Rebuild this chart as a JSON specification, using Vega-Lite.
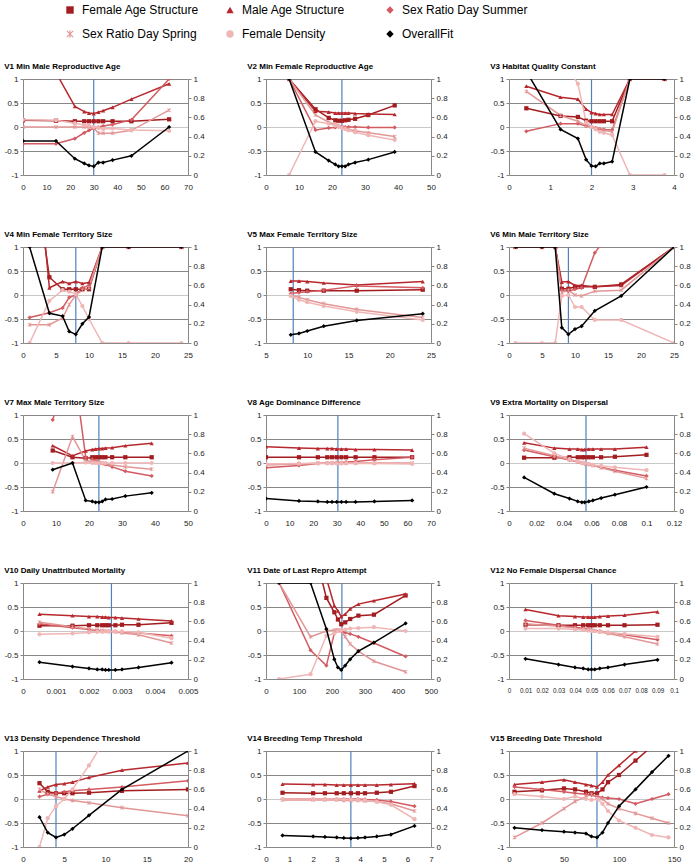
{
"$schema": "https://vega.github.io/schema/vega-lite/v6.json",
"padding": {"left": 4, "top": 4, "right": 0, "bottom": 0},
"datasets": {
"b": [{"p":"V1","x":30},{"p":"V2","x":23},{"p":"V3","x":2},{"p":"V4","x":8},{"p":"V5","x":8.3},{"p":"V6","x":9},{"p":"V7","x":23},{"p":"V8","x":30.5},{"p":"V9","x":0.056},{"p":"V10","x":0.00268},{"p":"V11","x":230},{"p":"V12","x":0.05},{"p":"V13","x":4},{"p":"V14","x":3.6},{"p":"V15","x":80}],
"d": [
{"p":"V1","x":0,"s1":0.14,"s2":1.3,"s3":-0.35,"s4":0,"s5":0.15,"s6":0.355},
{"p":"V1","x":14,"s1":0.13,"s2":1.13,"s3":-0.35,"s4":0,"s5":0.14,"s6":0.355},
{"p":"V1","x":22,"s1":0.12,"s2":0.43,"s3":-0.24,"s4":0,"s5":0.08,"s6":0.17},
{"p":"V1","x":26,"s1":0.12,"s2":0.32,"s3":-0.12,"s4":0,"s5":0.04,"s6":0.12},
{"p":"V1","x":28,"s1":0.12,"s2":0.29,"s3":-0.07,"s4":0,"s5":0.03,"s6":0.1},
{"p":"V1","x":30,"s1":0.12,"s2":0.28,"s3":-0.03,"s4":-0.02,"s5":0,"s6":0.09},
{"p":"V1","x":32,"s1":0.12,"s2":0.31,"s3":0,"s4":-0.13,"s5":-0.02,"s6":0.13},
{"p":"V1","x":34,"s1":0.12,"s2":0.34,"s3":0.02,"s4":-0.13,"s5":-0.04,"s6":0.13},
{"p":"V1","x":38,"s1":0.12,"s2":0.41,"s3":0.05,"s4":-0.13,"s5":-0.03,"s6":0.155},
{"p":"V1","x":46,"s1":0.12,"s2":0.58,"s3":0.15,"s4":-0.07,"s5":-0.06,"s6":0.2},
{"p":"V1","x":62,"s1":0.16,"s2":0.9,"s3":1.0,"s4":0.35,"s5":-0.08,"s6":0.5},
{"p":"V2","x":7,"s1":1,"s2":1,"s3":1,"s4":1,"s5":-1,"s6":1},
{"p":"V2","x":15,"s1":0.37,"s2":0.33,"s3":-0.06,"s4":0.25,"s5":0.12,"s6":0.24},
{"p":"V2","x":19,"s1":0.19,"s2":0.31,"s3":-0.02,"s4":0.1,"s5":0.07,"s6":0.15},
{"p":"V2","x":21,"s1":0.14,"s2":0.29,"s3":-0.01,"s4":0.05,"s5":0.03,"s6":0.11},
{"p":"V2","x":22,"s1":0.13,"s2":0.29,"s3":0,"s4":0.03,"s5":0.01,"s6":0.09},
{"p":"V2","x":23,"s1":0.13,"s2":0.29,"s3":0,"s4":0,"s5":-0.02,"s6":0.09},
{"p":"V2","x":24,"s1":0.14,"s2":0.29,"s3":0,"s4":-0.02,"s5":-0.04,"s6":0.09},
{"p":"V2","x":25,"s1":0.15,"s2":0.29,"s3":0,"s4":-0.05,"s5":-0.07,"s6":0.11},
{"p":"V2","x":27,"s1":0.17,"s2":0.28,"s3":0,"s4":-0.08,"s5":-0.11,"s6":0.13},
{"p":"V2","x":31,"s1":0.25,"s2":0.27,"s3":-0.01,"s4":-0.12,"s5":-0.17,"s6":0.16},
{"p":"V2","x":39,"s1":0.45,"s2":0.26,"s3":-0.01,"s4":-0.2,"s5":-0.27,"s6":0.24},
{"p":"V3","x":0.42,"s1":0.39,"s2":0.85,"s3":-0.09,"s4":0.74,"s5":2.5,"s6":1.08},
{"p":"V3","x":1.25,"s1":0.23,"s2":0.62,"s3":0.07,"s4":0.24,"s5":1.5,"s6":0.475},
{"p":"V3","x":1.67,"s1":0.21,"s2":0.58,"s3":0.07,"s4":0.12,"s5":0.9,"s6":0.38},
{"p":"V3","x":1.87,"s1":0.13,"s2":0.37,"s3":0.02,"s4":0.03,"s5":0.1,"s6":0.16},
{"p":"V3","x":2,"s1":0.12,"s2":0.3,"s3":0,"s4":0,"s5":0,"s6":0.095},
{"p":"V3","x":2.1,"s1":0.12,"s2":0.28,"s3":-0.02,"s4":-0.03,"s5":-0.05,"s6":0.09},
{"p":"V3","x":2.2,"s1":0.12,"s2":0.26,"s3":-0.04,"s4":-0.05,"s5":-0.1,"s6":0.12},
{"p":"V3","x":2.3,"s1":0.12,"s2":0.26,"s3":-0.05,"s4":-0.07,"s5":-0.12,"s6":0.12},
{"p":"V3","x":2.5,"s1":0.12,"s2":0.26,"s3":-0.06,"s4":-0.1,"s5":-0.17,"s6":0.14},
{"p":"V3","x":2.93,"s1":1,"s2":1,"s3":1,"s4":1,"s5":-1,"s6":1},
{"p":"V3","x":3.77,"s1":1,"s2":1,"s3":1,"s4":1,"s5":-1,"s6":1},
{"p":"V4","x":1,"s1":3.3,"s2":4.4,"s3":-0.47,"s4":-0.62,"s5":-1,"s6":1},
{"p":"V4","x":4,"s1":0.37,"s2":0.15,"s3":-0.37,"s4":-0.62,"s5":-0.12,"s6":0.31},
{"p":"V4","x":6,"s1":0.12,"s2":0.28,"s3":-0.27,"s4":-0.48,"s5":0.1,"s6":0.28},
{"p":"V4","x":7,"s1":0.12,"s2":0.24,"s3":-0.05,"s4":-0.2,"s5":0.07,"s6":0.12},
{"p":"V4","x":8,"s1":0.12,"s2":0.28,"s3":0,"s4":0,"s5":0.02,"s6":0.09},
{"p":"V4","x":9,"s1":0.12,"s2":0.24,"s3":0.15,"s4":0.1,"s5":-0.23,"s6":0.2},
{"p":"V4","x":10,"s1":0.12,"s2":0.26,"s3":0.2,"s4":0.15,"s5":-0.5,"s6":0.27},
{"p":"V4","x":12,"s1":1,"s2":1,"s3":1,"s4":1,"s5":-1,"s6":1},
{"p":"V4","x":16,"s1":1,"s2":1,"s3":1,"s4":1,"s5":-1,"s6":1},
{"p":"V4","x":24,"s1":1,"s2":1,"s3":1,"s4":1,"s5":-1,"s6":1},
{"p":"V5","x":8,"s1":0.12,"s2":0.29,"s3":0.03,"s4":0,"s5":-0.02,"s6":0.085},
{"p":"V5","x":9,"s1":0.1,"s2":0.29,"s3":0.05,"s4":-0.05,"s5":-0.1,"s6":0.1},
{"p":"V5","x":10,"s1":0.09,"s2":0.28,"s3":0.07,"s4":-0.1,"s5":-0.15,"s6":0.125},
{"p":"V5","x":12,"s1":0.09,"s2":0.25,"s3":0.1,"s4":-0.18,"s5":-0.23,"s6":0.175},
{"p":"V5","x":16,"s1":0.09,"s2":0.21,"s3":0.19,"s4":-0.3,"s5":-0.35,"s6":0.235},
{"p":"V5","x":24,"s1":0.11,"s2":0.28,"s3":0.15,"s4":-0.47,"s5":-0.52,"s6":0.305},
{"p":"V6","x":1,"s1":1,"s2":1,"s3":1,"s4":1,"s5":-1,"s6":1},
{"p":"V6","x":5,"s1":1,"s2":1,"s3":1,"s4":1,"s5":-1,"s6":1},
{"p":"V6","x":7,"s1":1,"s2":1,"s3":1,"s4":1,"s5":-1,"s6":1},
{"p":"V6","x":8,"s1":0.13,"s2":0.27,"s3":0.1,"s4":0.05,"s5":-0.02,"s6":0.16},
{"p":"V6","x":9,"s1":0.13,"s2":0.28,"s3":0.08,"s4":0.1,"s5":0,"s6":0.09},
{"p":"V6","x":10,"s1":0.17,"s2":0.2,"s3":0.12,"s4":0,"s5":-0.25,"s6":0.145},
{"p":"V6","x":11,"s1":0.17,"s2":0.2,"s3":0.15,"s4":-0.02,"s5":-0.25,"s6":0.175},
{"p":"V6","x":13,"s1":0.17,"s2":0.17,"s3":0.88,"s4":0.08,"s5":-0.52,"s6":0.335},
{"p":"V6","x":17,"s1":0.22,"s2":0.2,"s3":1.6,"s4":0.1,"s5":-0.52,"s6":0.49},
{"p":"V6","x":25,"s1":1,"s2":1,"s3":1,"s4":1,"s5":-1,"s6":1},
{"p":"V7","x":9,"s1":0.26,"s2":0.36,"s3":0.9,"s4":-0.6,"s5":0,"s6":0.43},
{"p":"V7","x":15,"s1":0.12,"s2":0.15,"s3":2.2,"s4":0.55,"s5":0,"s6":0.5},
{"p":"V7","x":19,"s1":0.1,"s2":0.25,"s3":0.12,"s4":0.05,"s5":0.01,"s6":0.11},
{"p":"V7","x":21,"s1":0.12,"s2":0.28,"s3":0.08,"s4":0.03,"s5":0,"s6":0.1},
{"p":"V7","x":22,"s1":0.12,"s2":0.29,"s3":0.05,"s4":0.02,"s5":0,"s6":0.09},
{"p":"V7","x":23,"s1":0.12,"s2":0.3,"s3":0.02,"s4":0,"s5":0,"s6":0.09},
{"p":"V7","x":24,"s1":0.12,"s2":0.3,"s3":0,"s4":-0.01,"s5":0,"s6":0.1},
{"p":"V7","x":25,"s1":0.12,"s2":0.31,"s3":-0.03,"s4":-0.02,"s5":0,"s6":0.12},
{"p":"V7","x":27,"s1":0.12,"s2":0.32,"s3":-0.08,"s4":-0.04,"s5":0,"s6":0.125},
{"p":"V7","x":31,"s1":0.12,"s2":0.36,"s3":-0.17,"s4":-0.08,"s5":0,"s6":0.155},
{"p":"V7","x":39,"s1":0.12,"s2":0.41,"s3":-0.27,"s4":-0.13,"s5":0,"s6":0.19},
{"p":"V8","x":0,"s1":0.12,"s2":0.34,"s3":-0.1,"s4":-0.04,"s5":-0.02,"s6":0.13},
{"p":"V8","x":14,"s1":0.12,"s2":0.31,"s3":-0.05,"s4":-0.02,"s5":-0.01,"s6":0.105},
{"p":"V8","x":22,"s1":0.12,"s2":0.3,"s3":-0.01,"s4":0,"s5":-0.01,"s6":0.1},
{"p":"V8","x":26,"s1":0.12,"s2":0.3,"s3":0,"s4":0,"s5":-0.01,"s6":0.095},
{"p":"V8","x":28,"s1":0.12,"s2":0.3,"s3":0,"s4":0,"s5":-0.01,"s6":0.095},
{"p":"V8","x":30,"s1":0.12,"s2":0.29,"s3":0.01,"s4":0,"s5":-0.01,"s6":0.095},
{"p":"V8","x":32,"s1":0.12,"s2":0.29,"s3":0.01,"s4":0,"s5":-0.01,"s6":0.095},
{"p":"V8","x":34,"s1":0.12,"s2":0.29,"s3":0.02,"s4":0,"s5":-0.01,"s6":0.095},
{"p":"V8","x":38,"s1":0.12,"s2":0.28,"s3":0.03,"s4":0,"s5":-0.01,"s6":0.095},
{"p":"V8","x":46,"s1":0.12,"s2":0.28,"s3":0.07,"s4":0,"s5":-0.01,"s6":0.1},
{"p":"V8","x":62,"s1":0.12,"s2":0.27,"s3":0.12,"s4":0,"s5":-0.02,"s6":0.11},
{"p":"V9","x":0.011,"s1":0.11,"s2":0.42,"s3":0.27,"s4":0.31,"s5":0.61,"s6":0.35},
{"p":"V9","x":0.033,"s1":0.11,"s2":0.31,"s3":0.13,"s4":0.15,"s5":0.2,"s6":0.18},
{"p":"V9","x":0.044,"s1":0.12,"s2":0.29,"s3":0.06,"s4":0.07,"s5":0.08,"s6":0.13},
{"p":"V9","x":0.05,"s1":0.12,"s2":0.29,"s3":0.02,"s4":0.03,"s5":0.03,"s6":0.1},
{"p":"V9","x":0.053,"s1":0.12,"s2":0.28,"s3":0,"s4":0.01,"s5":0,"s6":0.09},
{"p":"V9","x":0.055,"s1":0.12,"s2":0.28,"s3":-0.02,"s4":-0.01,"s5":-0.01,"s6":0.09},
{"p":"V9","x":0.058,"s1":0.12,"s2":0.29,"s3":-0.03,"s4":-0.03,"s5":-0.02,"s6":0.1},
{"p":"V9","x":0.061,"s1":0.12,"s2":0.29,"s3":-0.05,"s4":-0.05,"s5":-0.04,"s6":0.11},
{"p":"V9","x":0.067,"s1":0.12,"s2":0.29,"s3":-0.09,"s4":-0.1,"s5":-0.06,"s6":0.135},
{"p":"V9","x":0.077,"s1":0.13,"s2":0.29,"s3":-0.15,"s4":-0.17,"s5":-0.09,"s6":0.17},
{"p":"V9","x":0.1,"s1":0.17,"s2":0.33,"s3":-0.27,"s4":-0.32,"s5":-0.15,"s6":0.25},
{"p":"V10","x":0.0005,"s1":0.11,"s2":0.35,"s3":0.15,"s4":0.18,"s5":-0.07,"s6":0.175},
{"p":"V10","x":0.0015,"s1":0.11,"s2":0.32,"s3":0.07,"s4":0.09,"s5":-0.05,"s6":0.13},
{"p":"V10","x":0.002,"s1":0.12,"s2":0.3,"s3":0.03,"s4":0.04,"s5":-0.03,"s6":0.11},
{"p":"V10","x":0.00225,"s1":0.12,"s2":0.3,"s3":0.01,"s4":0.02,"s5":-0.02,"s6":0.1},
{"p":"V10","x":0.0024,"s1":0.12,"s2":0.29,"s3":0,"s4":0.01,"s5":-0.02,"s6":0.1},
{"p":"V10","x":0.0025,"s1":0.12,"s2":0.29,"s3":0,"s4":0,"s5":-0.01,"s6":0.095},
{"p":"V10","x":0.0026,"s1":0.12,"s2":0.28,"s3":-0.01,"s4":-0.01,"s5":-0.01,"s6":0.095},
{"p":"V10","x":0.0028,"s1":0.12,"s2":0.28,"s3":-0.01,"s4":-0.02,"s5":-0.01,"s6":0.095},
{"p":"V10","x":0.003,"s1":0.13,"s2":0.27,"s3":-0.02,"s4":-0.04,"s5":-0.01,"s6":0.1},
{"p":"V10","x":0.0035,"s1":0.13,"s2":0.25,"s3":-0.04,"s4":-0.08,"s5":-0.03,"s6":0.12},
{"p":"V10","x":0.0045,"s1":0.17,"s2":0.21,"s3":-0.1,"s4":-0.25,"s5":-0.15,"s6":0.17},
{"p":"V11","x":40,"s1":3,"s2":3,"s3":1,"s4":1,"s5":-1,"s6":1},
{"p":"V11","x":135,"s1":2,"s2":2.5,"s3":-0.4,"s4":-0.12,"s5":-0.9,"s6":1},
{"p":"V11","x":183,"s1":0.69,"s2":1.1,"s3":-0.72,"s4":0,"s5":-0.1,"s6":0.52},
{"p":"V11","x":207,"s1":0.39,"s2":0.53,"s3":-0.05,"s4":0.02,"s5":-0.05,"s6":0.205},
{"p":"V11","x":218,"s1":0.24,"s2":0.42,"s3":0.02,"s4":0.02,"s5":0,"s6":0.12},
{"p":"V11","x":228,"s1":0.14,"s2":0.3,"s3":0,"s4":0,"s5":0.02,"s6":0.095},
{"p":"V11","x":240,"s1":0.18,"s2":0.35,"s3":-0.03,"s4":-0.12,"s5":0.03,"s6":0.14},
{"p":"V11","x":255,"s1":0.25,"s2":0.46,"s3":-0.06,"s4":-0.27,"s5":0.05,"s6":0.205},
{"p":"V11","x":280,"s1":0.32,"s2":0.56,"s3":-0.12,"s4":-0.42,"s5":0.06,"s6":0.29},
{"p":"V11","x":327,"s1":0.34,"s2":0.63,"s3":-0.25,"s4":-0.63,"s5":0.08,"s6":0.38},
{"p":"V11","x":423,"s1":0.74,"s2":0.77,"s3":-0.53,"s4":-0.85,"s5":0,"s6":0.58},
{"p":"V12","x":0.01,"s1":0.13,"s2":0.45,"s3":0.22,"s4":0.15,"s5":0.05,"s6":0.21},
{"p":"V12","x":0.03,"s1":0.12,"s2":0.32,"s3":0.12,"s4":0.1,"s5":0.05,"s6":0.15},
{"p":"V12","x":0.04,"s1":0.12,"s2":0.3,"s3":0.08,"s4":0.06,"s5":0.03,"s6":0.12},
{"p":"V12","x":0.045,"s1":0.12,"s2":0.29,"s3":0.06,"s4":0.04,"s5":0.02,"s6":0.11},
{"p":"V12","x":0.048,"s1":0.12,"s2":0.29,"s3":0.04,"s4":0.03,"s5":0.01,"s6":0.1},
{"p":"V12","x":0.05,"s1":0.12,"s2":0.29,"s3":0.02,"s4":0.02,"s5":0,"s6":0.1},
{"p":"V12","x":0.052,"s1":0.12,"s2":0.29,"s3":0.01,"s4":0,"s5":0,"s6":0.1},
{"p":"V12","x":0.055,"s1":0.12,"s2":0.3,"s3":0,"s4":-0.02,"s5":-0.01,"s6":0.11},
{"p":"V12","x":0.06,"s1":0.12,"s2":0.31,"s3":-0.03,"s4":-0.05,"s5":-0.03,"s6":0.12},
{"p":"V12","x":0.07,"s1":0.12,"s2":0.33,"s3":-0.08,"s4":-0.12,"s5":-0.06,"s6":0.15},
{"p":"V12","x":0.09,"s1":0.13,"s2":0.4,"s3":-0.18,"s4":-0.27,"s5":-0.12,"s6":0.2},
{"p":"V13","x":2,"s1":0.33,"s2":0.17,"s3":0.05,"s4":0.2,"s5":-1,"s6":0.31},
{"p":"V13","x":3,"s1":0.15,"s2":0.25,"s3":0.1,"s4":0.1,"s5":-0.4,"s6":0.15},
{"p":"V13","x":4,"s1":0.12,"s2":0.3,"s3":0.12,"s4":0.05,"s5":-0.15,"s6":0.1},
{"p":"V13","x":5,"s1":0.12,"s2":0.32,"s3":0.15,"s4":0,"s5":0,"s6":0.13},
{"p":"V13","x":6,"s1":0.12,"s2":0.35,"s3":0.17,"s4":-0.03,"s5":0.2,"s6":0.19},
{"p":"V13","x":8,"s1":0.13,"s2":0.45,"s3":0.2,"s4":-0.08,"s5":0.7,"s6":0.33},
{"p":"V13","x":12,"s1":0.17,"s2":0.6,"s3":0.25,"s4":-0.18,"s5":1.8,"s6":0.6},
{"p":"V13","x":20,"s1":0.2,"s2":0.75,"s3":0.38,"s4":-0.35,"s5":3.5,"s6":1},
{"p":"V14","x":0.7,"s1":0.13,"s2":0.31,"s3":0,"s4":-0.02,"s5":0,"s6":0.12},
{"p":"V14","x":2,"s1":0.12,"s2":0.3,"s3":0,"s4":-0.02,"s5":0,"s6":0.11},
{"p":"V14","x":2.5,"s1":0.12,"s2":0.3,"s3":0,"s4":-0.02,"s5":0,"s6":0.105},
{"p":"V14","x":3,"s1":0.12,"s2":0.29,"s3":0,"s4":-0.02,"s5":0,"s6":0.1},
{"p":"V14","x":3.3,"s1":0.12,"s2":0.29,"s3":0,"s4":-0.03,"s5":-0.01,"s6":0.095},
{"p":"V14","x":3.6,"s1":0.12,"s2":0.29,"s3":0,"s4":-0.03,"s5":-0.01,"s6":0.09},
{"p":"V14","x":3.9,"s1":0.12,"s2":0.29,"s3":0,"s4":-0.03,"s5":-0.02,"s6":0.095},
{"p":"V14","x":4.2,"s1":0.12,"s2":0.29,"s3":-0.01,"s4":-0.04,"s5":-0.03,"s6":0.1},
{"p":"V14","x":4.7,"s1":0.13,"s2":0.29,"s3":-0.02,"s4":-0.05,"s5":-0.06,"s6":0.11},
{"p":"V14","x":5.3,"s1":0.15,"s2":0.3,"s3":-0.05,"s4":-0.1,"s5":-0.12,"s6":0.13},
{"p":"V14","x":6.3,"s1":0.27,"s2":0.32,"s3":-0.15,"s4":-0.25,"s5":-0.42,"s6":0.22},
{"p":"V15","x":5,"s1":0.15,"s2":0.3,"s3":0.25,"s4":-0.8,"s5":0.1,"s6":0.2},
{"p":"V15","x":30,"s1":0.18,"s2":0.35,"s3":0.2,"s4":-0.5,"s5":0.05,"s6":0.175},
{"p":"V15","x":50,"s1":0.22,"s2":0.4,"s3":0.15,"s4":-0.2,"s5":0,"s6":0.16},
{"p":"V15","x":60,"s1":0.2,"s2":0.35,"s3":0.12,"s4":-0.05,"s5":0.05,"s6":0.15},
{"p":"V15","x":70,"s1":0.15,"s2":0.3,"s3":0.1,"s4":0.05,"s5":0,"s6":0.14},
{"p":"V15","x":75,"s1":0.12,"s2":0.28,"s3":0.08,"s4":0.1,"s5":-0.02,"s6":0.11},
{"p":"V15","x":80,"s1":0.12,"s2":0.25,"s3":0.05,"s4":0.05,"s5":0,"s6":0.1},
{"p":"V15","x":85,"s1":0.2,"s2":0.35,"s3":0.03,"s4":0,"s5":-0.1,"s6":0.15},
{"p":"V15","x":90,"s1":0.35,"s2":0.5,"s3":0.02,"s4":-0.1,"s5":-0.25,"s6":0.25},
{"p":"V15","x":100,"s1":0.5,"s2":0.7,"s3":0,"s4":-0.2,"s5":-0.45,"s6":0.425},
{"p":"V15","x":115,"s1":0.8,"s2":1,"s3":-0.1,"s4":-0.3,"s5":-0.6,"s6":0.6},
{"p":"V15","x":130,"s1":1.1,"s2":1.3,"s3":0,"s4":-0.4,"s5":-0.75,"s6":0.78},
{"p":"V15","x":145,"s1":1.4,"s2":1.6,"s3":0.1,"s4":-0.5,"s5":-0.8,"s6":0.95}
]},
"columns": 3,
"spacing": {"row": 40, "column": 42},
"resolve": {"scale": {"color": "shared", "shape": "shared", "stroke": "shared"}},
"concat": [
{"title":"V1 Min Male Reproductive Age","width":165,"height":96,"data":{"name":"d"},"transform":[{"filter":"datum.p=='V1'"}],"layer":[
{"data":{"name":"b"},"transform":[{"filter":"datum.p=='V1'"}],"mark":{"type":"rule","color":"#4F81BD","strokeWidth":1.2},"encoding":{"x":{"field":"x","type":"quantitative","scale":{"domain":[0,70],"nice":false,"zero":false},"axis":{"values":[0,10,20,30,40,50,60,70]},"title":null}}},
{"transform":[{"fold":["s1","s2","s3","s4","s5"],"as":["s","v"]}],"encoding":{"x":{"field":"x","type":"quantitative","scale":{"domain":[0,70],"nice":false,"zero":false},"axis":{"values":[0,10,20,30,40,50,60,70]},"title":null},"y":{"field":"v","type":"quantitative","scale":{"domain":[-1,1],"nice":false},"axis":{"orient":"left","values":[-1,-0.5,0,0.5,1]},"title":null}},"layer":[{"mark":{"type":"line","clip":true,"strokeWidth":1.5},"encoding":{"stroke":{"field":"s","type":"nominal","legend":null}}},{"mark":{"type":"point","filled":true,"clip":true,"size":18,"opacity":1},"encoding":{"color":{"field":"s","type":"nominal","title":null,"legend":{"labelExpr":"datum.label=='s1'?'Female Age Structure':datum.label=='s2'?'Male Age Structure':datum.label=='s3'?'Sex Ratio Day Summer':datum.label=='s4'?'Sex Ratio Day Spring':datum.label=='s5'?'Female Density':'OverallFit'"}},"shape":{"field":"s","type":"nominal","title":null,"legend":{"labelExpr":"datum.label=='s1'?'Female Age Structure':datum.label=='s2'?'Male Age Structure':datum.label=='s3'?'Sex Ratio Day Summer':datum.label=='s4'?'Sex Ratio Day Spring':datum.label=='s5'?'Female Density':'OverallFit'"}}}}]},
{"transform":[{"fold":["s6"],"as":["s","v"]}],"encoding":{"x":{"field":"x","type":"quantitative","scale":{"domain":[0,70],"nice":false,"zero":false},"axis":{"values":[0,10,20,30,40,50,60,70]},"title":null},"y":{"field":"v","type":"quantitative","scale":{"domain":[0,1],"nice":false},"axis":{"orient":"right","values":[0,0.2,0.4,0.6,0.8,1]},"title":null}},"layer":[{"mark":{"type":"line","clip":true,"strokeWidth":1.5},"encoding":{"stroke":{"field":"s","type":"nominal","legend":null}}},{"mark":{"type":"point","filled":true,"clip":true,"size":18,"opacity":1},"encoding":{"color":{"field":"s","type":"nominal","title":null},"shape":{"field":"s","type":"nominal","title":null}}}]}
],"resolve":{"scale":{"y":"independent"}}},
{"title":"V2 Min Female Reproductive Age","width":165,"height":96,"data":{"name":"d"},"transform":[{"filter":"datum.p=='V2'"}],"layer":[
{"data":{"name":"b"},"transform":[{"filter":"datum.p=='V2'"}],"mark":{"type":"rule","color":"#4F81BD","strokeWidth":1.2},"encoding":{"x":{"field":"x","type":"quantitative","scale":{"domain":[0,50],"nice":false,"zero":false},"axis":{"values":[0,10,20,30,40,50]},"title":null}}},
{"transform":[{"fold":["s1","s2","s3","s4","s5"],"as":["s","v"]}],"encoding":{"x":{"field":"x","type":"quantitative","scale":{"domain":[0,50],"nice":false,"zero":false},"axis":{"values":[0,10,20,30,40,50]},"title":null},"y":{"field":"v","type":"quantitative","scale":{"domain":[-1,1],"nice":false},"axis":{"orient":"left","values":[-1,-0.5,0,0.5,1]},"title":null}},"layer":[{"mark":{"type":"line","clip":true,"strokeWidth":1.5},"encoding":{"stroke":{"field":"s","type":"nominal","legend":null}}},{"mark":{"type":"point","filled":true,"clip":true,"size":18,"opacity":1},"encoding":{"color":{"field":"s","type":"nominal","title":null},"shape":{"field":"s","type":"nominal","title":null}}}]},
{"transform":[{"fold":["s6"],"as":["s","v"]}],"encoding":{"x":{"field":"x","type":"quantitative","scale":{"domain":[0,50],"nice":false,"zero":false},"axis":{"values":[0,10,20,30,40,50]},"title":null},"y":{"field":"v","type":"quantitative","scale":{"domain":[0,1],"nice":false},"axis":{"orient":"right","values":[0,0.2,0.4,0.6,0.8,1]},"title":null}},"layer":[{"mark":{"type":"line","clip":true,"strokeWidth":1.5},"encoding":{"stroke":{"field":"s","type":"nominal","legend":null}}},{"mark":{"type":"point","filled":true,"clip":true,"size":18,"opacity":1},"encoding":{"color":{"field":"s","type":"nominal","title":null},"shape":{"field":"s","type":"nominal","title":null}}}]}
],"resolve":{"scale":{"y":"independent"}}},
{"title":"V3 Habitat Quality Constant","width":165,"height":96,"data":{"name":"d"},"transform":[{"filter":"datum.p=='V3'"}],"layer":[
{"data":{"name":"b"},"transform":[{"filter":"datum.p=='V3'"}],"mark":{"type":"rule","color":"#4F81BD","strokeWidth":1.2},"encoding":{"x":{"field":"x","type":"quantitative","scale":{"domain":[0,4],"nice":false,"zero":false},"axis":{"values":[0,1,2,3,4]},"title":null}}},
{"transform":[{"fold":["s1","s2","s3","s4","s5"],"as":["s","v"]}],"encoding":{"x":{"field":"x","type":"quantitative","scale":{"domain":[0,4],"nice":false,"zero":false},"axis":{"values":[0,1,2,3,4]},"title":null},"y":{"field":"v","type":"quantitative","scale":{"domain":[-1,1],"nice":false},"axis":{"orient":"left","values":[-1,-0.5,0,0.5,1]},"title":null}},"layer":[{"mark":{"type":"line","clip":true,"strokeWidth":1.5},"encoding":{"stroke":{"field":"s","type":"nominal","legend":null}}},{"mark":{"type":"point","filled":true,"clip":true,"size":18,"opacity":1},"encoding":{"color":{"field":"s","type":"nominal","title":null},"shape":{"field":"s","type":"nominal","title":null}}}]},
{"transform":[{"fold":["s6"],"as":["s","v"]}],"encoding":{"x":{"field":"x","type":"quantitative","scale":{"domain":[0,4],"nice":false,"zero":false},"axis":{"values":[0,1,2,3,4]},"title":null},"y":{"field":"v","type":"quantitative","scale":{"domain":[0,1],"nice":false},"axis":{"orient":"right","values":[0,0.2,0.4,0.6,0.8,1]},"title":null}},"layer":[{"mark":{"type":"line","clip":true,"strokeWidth":1.5},"encoding":{"stroke":{"field":"s","type":"nominal","legend":null}}},{"mark":{"type":"point","filled":true,"clip":true,"size":18,"opacity":1},"encoding":{"color":{"field":"s","type":"nominal","title":null},"shape":{"field":"s","type":"nominal","title":null}}}]}
],"resolve":{"scale":{"y":"independent"}}},
{"title":"V4 Min Female Territory Size","width":165,"height":96,"data":{"name":"d"},"transform":[{"filter":"datum.p=='V4'"}],"layer":[
{"data":{"name":"b"},"transform":[{"filter":"datum.p=='V4'"}],"mark":{"type":"rule","color":"#4F81BD","strokeWidth":1.2},"encoding":{"x":{"field":"x","type":"quantitative","scale":{"domain":[0,25],"nice":false,"zero":false},"axis":{"values":[0,5,10,15,20,25]},"title":null}}},
{"transform":[{"fold":["s1","s2","s3","s4","s5"],"as":["s","v"]}],"encoding":{"x":{"field":"x","type":"quantitative","scale":{"domain":[0,25],"nice":false,"zero":false},"axis":{"values":[0,5,10,15,20,25]},"title":null},"y":{"field":"v","type":"quantitative","scale":{"domain":[-1,1],"nice":false},"axis":{"orient":"left","values":[-1,-0.5,0,0.5,1]},"title":null}},"layer":[{"mark":{"type":"line","clip":true,"strokeWidth":1.5},"encoding":{"stroke":{"field":"s","type":"nominal","legend":null}}},{"mark":{"type":"point","filled":true,"clip":true,"size":18,"opacity":1},"encoding":{"color":{"field":"s","type":"nominal","title":null},"shape":{"field":"s","type":"nominal","title":null}}}]},
{"transform":[{"fold":["s6"],"as":["s","v"]}],"encoding":{"x":{"field":"x","type":"quantitative","scale":{"domain":[0,25],"nice":false,"zero":false},"axis":{"values":[0,5,10,15,20,25]},"title":null},"y":{"field":"v","type":"quantitative","scale":{"domain":[0,1],"nice":false},"axis":{"orient":"right","values":[0,0.2,0.4,0.6,0.8,1]},"title":null}},"layer":[{"mark":{"type":"line","clip":true,"strokeWidth":1.5},"encoding":{"stroke":{"field":"s","type":"nominal","legend":null}}},{"mark":{"type":"point","filled":true,"clip":true,"size":18,"opacity":1},"encoding":{"color":{"field":"s","type":"nominal","title":null},"shape":{"field":"s","type":"nominal","title":null}}}]}
],"resolve":{"scale":{"y":"independent"}}},
{"title":"V5 Max Female Territory Size","width":165,"height":96,"data":{"name":"d"},"transform":[{"filter":"datum.p=='V5'"}],"layer":[
{"data":{"name":"b"},"transform":[{"filter":"datum.p=='V5'"}],"mark":{"type":"rule","color":"#4F81BD","strokeWidth":1.2},"encoding":{"x":{"field":"x","type":"quantitative","scale":{"domain":[5,25],"nice":false,"zero":false},"axis":{"values":[5,10,15,20,25]},"title":null}}},
{"transform":[{"fold":["s1","s2","s3","s4","s5"],"as":["s","v"]}],"encoding":{"x":{"field":"x","type":"quantitative","scale":{"domain":[5,25],"nice":false,"zero":false},"axis":{"values":[5,10,15,20,25]},"title":null},"y":{"field":"v","type":"quantitative","scale":{"domain":[-1,1],"nice":false},"axis":{"orient":"left","values":[-1,-0.5,0,0.5,1]},"title":null}},"layer":[{"mark":{"type":"line","clip":true,"strokeWidth":1.5},"encoding":{"stroke":{"field":"s","type":"nominal","legend":null}}},{"mark":{"type":"point","filled":true,"clip":true,"size":18,"opacity":1},"encoding":{"color":{"field":"s","type":"nominal","title":null},"shape":{"field":"s","type":"nominal","title":null}}}]},
{"transform":[{"fold":["s6"],"as":["s","v"]}],"encoding":{"x":{"field":"x","type":"quantitative","scale":{"domain":[5,25],"nice":false,"zero":false},"axis":{"values":[5,10,15,20,25]},"title":null},"y":{"field":"v","type":"quantitative","scale":{"domain":[0,1],"nice":false},"axis":{"orient":"right","values":[0,0.2,0.4,0.6,0.8,1]},"title":null}},"layer":[{"mark":{"type":"line","clip":true,"strokeWidth":1.5},"encoding":{"stroke":{"field":"s","type":"nominal","legend":null}}},{"mark":{"type":"point","filled":true,"clip":true,"size":18,"opacity":1},"encoding":{"color":{"field":"s","type":"nominal","title":null},"shape":{"field":"s","type":"nominal","title":null}}}]}
],"resolve":{"scale":{"y":"independent"}}},
{"title":"V6 Min Male Territory Size","width":165,"height":96,"data":{"name":"d"},"transform":[{"filter":"datum.p=='V6'"}],"layer":[
{"data":{"name":"b"},"transform":[{"filter":"datum.p=='V6'"}],"mark":{"type":"rule","color":"#4F81BD","strokeWidth":1.2},"encoding":{"x":{"field":"x","type":"quantitative","scale":{"domain":[0,25],"nice":false,"zero":false},"axis":{"values":[0,5,10,15,20,25]},"title":null}}},
{"transform":[{"fold":["s1","s2","s3","s4","s5"],"as":["s","v"]}],"encoding":{"x":{"field":"x","type":"quantitative","scale":{"domain":[0,25],"nice":false,"zero":false},"axis":{"values":[0,5,10,15,20,25]},"title":null},"y":{"field":"v","type":"quantitative","scale":{"domain":[-1,1],"nice":false},"axis":{"orient":"left","values":[-1,-0.5,0,0.5,1]},"title":null}},"layer":[{"mark":{"type":"line","clip":true,"strokeWidth":1.5},"encoding":{"stroke":{"field":"s","type":"nominal","legend":null}}},{"mark":{"type":"point","filled":true,"clip":true,"size":18,"opacity":1},"encoding":{"color":{"field":"s","type":"nominal","title":null},"shape":{"field":"s","type":"nominal","title":null}}}]},
{"transform":[{"fold":["s6"],"as":["s","v"]}],"encoding":{"x":{"field":"x","type":"quantitative","scale":{"domain":[0,25],"nice":false,"zero":false},"axis":{"values":[0,5,10,15,20,25]},"title":null},"y":{"field":"v","type":"quantitative","scale":{"domain":[0,1],"nice":false},"axis":{"orient":"right","values":[0,0.2,0.4,0.6,0.8,1]},"title":null}},"layer":[{"mark":{"type":"line","clip":true,"strokeWidth":1.5},"encoding":{"stroke":{"field":"s","type":"nominal","legend":null}}},{"mark":{"type":"point","filled":true,"clip":true,"size":18,"opacity":1},"encoding":{"color":{"field":"s","type":"nominal","title":null},"shape":{"field":"s","type":"nominal","title":null}}}]}
],"resolve":{"scale":{"y":"independent"}}},
{"title":"V7 Max Male Territory Size","width":165,"height":96,"data":{"name":"d"},"transform":[{"filter":"datum.p=='V7'"}],"layer":[
{"data":{"name":"b"},"transform":[{"filter":"datum.p=='V7'"}],"mark":{"type":"rule","color":"#4F81BD","strokeWidth":1.2},"encoding":{"x":{"field":"x","type":"quantitative","scale":{"domain":[0,50],"nice":false,"zero":false},"axis":{"values":[0,10,20,30,40,50]},"title":null}}},
{"transform":[{"fold":["s1","s2","s3","s4","s5"],"as":["s","v"]}],"encoding":{"x":{"field":"x","type":"quantitative","scale":{"domain":[0,50],"nice":false,"zero":false},"axis":{"values":[0,10,20,30,40,50]},"title":null},"y":{"field":"v","type":"quantitative","scale":{"domain":[-1,1],"nice":false},"axis":{"orient":"left","values":[-1,-0.5,0,0.5,1]},"title":null}},"layer":[{"mark":{"type":"line","clip":true,"strokeWidth":1.5},"encoding":{"stroke":{"field":"s","type":"nominal","legend":null}}},{"mark":{"type":"point","filled":true,"clip":true,"size":18,"opacity":1},"encoding":{"color":{"field":"s","type":"nominal","title":null},"shape":{"field":"s","type":"nominal","title":null}}}]},
{"transform":[{"fold":["s6"],"as":["s","v"]}],"encoding":{"x":{"field":"x","type":"quantitative","scale":{"domain":[0,50],"nice":false,"zero":false},"axis":{"values":[0,10,20,30,40,50]},"title":null},"y":{"field":"v","type":"quantitative","scale":{"domain":[0,1],"nice":false},"axis":{"orient":"right","values":[0,0.2,0.4,0.6,0.8,1]},"title":null}},"layer":[{"mark":{"type":"line","clip":true,"strokeWidth":1.5},"encoding":{"stroke":{"field":"s","type":"nominal","legend":null}}},{"mark":{"type":"point","filled":true,"clip":true,"size":18,"opacity":1},"encoding":{"color":{"field":"s","type":"nominal","title":null},"shape":{"field":"s","type":"nominal","title":null}}}]}
],"resolve":{"scale":{"y":"independent"}}},
{"title":"V8 Age Dominance Difference","width":165,"height":96,"data":{"name":"d"},"transform":[{"filter":"datum.p=='V8'"}],"layer":[
{"data":{"name":"b"},"transform":[{"filter":"datum.p=='V8'"}],"mark":{"type":"rule","color":"#4F81BD","strokeWidth":1.2},"encoding":{"x":{"field":"x","type":"quantitative","scale":{"domain":[0,70],"nice":false,"zero":false},"axis":{"values":[0,10,20,30,40,50,60,70]},"title":null}}},
{"transform":[{"fold":["s1","s2","s3","s4","s5"],"as":["s","v"]}],"encoding":{"x":{"field":"x","type":"quantitative","scale":{"domain":[0,70],"nice":false,"zero":false},"axis":{"values":[0,10,20,30,40,50,60,70]},"title":null},"y":{"field":"v","type":"quantitative","scale":{"domain":[-1,1],"nice":false},"axis":{"orient":"left","values":[-1,-0.5,0,0.5,1]},"title":null}},"layer":[{"mark":{"type":"line","clip":true,"strokeWidth":1.5},"encoding":{"stroke":{"field":"s","type":"nominal","legend":null}}},{"mark":{"type":"point","filled":true,"clip":true,"size":18,"opacity":1},"encoding":{"color":{"field":"s","type":"nominal","title":null},"shape":{"field":"s","type":"nominal","title":null}}}]},
{"transform":[{"fold":["s6"],"as":["s","v"]}],"encoding":{"x":{"field":"x","type":"quantitative","scale":{"domain":[0,70],"nice":false,"zero":false},"axis":{"values":[0,10,20,30,40,50,60,70]},"title":null},"y":{"field":"v","type":"quantitative","scale":{"domain":[0,1],"nice":false},"axis":{"orient":"right","values":[0,0.2,0.4,0.6,0.8,1]},"title":null}},"layer":[{"mark":{"type":"line","clip":true,"strokeWidth":1.5},"encoding":{"stroke":{"field":"s","type":"nominal","legend":null}}},{"mark":{"type":"point","filled":true,"clip":true,"size":18,"opacity":1},"encoding":{"color":{"field":"s","type":"nominal","title":null},"shape":{"field":"s","type":"nominal","title":null}}}]}
],"resolve":{"scale":{"y":"independent"}}},
{"title":"V9 Extra Mortality on Dispersal","width":165,"height":96,"data":{"name":"d"},"transform":[{"filter":"datum.p=='V9'"}],"layer":[
{"data":{"name":"b"},"transform":[{"filter":"datum.p=='V9'"}],"mark":{"type":"rule","color":"#4F81BD","strokeWidth":1.2},"encoding":{"x":{"field":"x","type":"quantitative","scale":{"domain":[0,0.12],"nice":false,"zero":false},"axis":{"values":[0,0.02,0.04,0.06,0.08,0.1,0.12]},"title":null}}},
{"transform":[{"fold":["s1","s2","s3","s4","s5"],"as":["s","v"]}],"encoding":{"x":{"field":"x","type":"quantitative","scale":{"domain":[0,0.12],"nice":false,"zero":false},"axis":{"values":[0,0.02,0.04,0.06,0.08,0.1,0.12]},"title":null},"y":{"field":"v","type":"quantitative","scale":{"domain":[-1,1],"nice":false},"axis":{"orient":"left","values":[-1,-0.5,0,0.5,1]},"title":null}},"layer":[{"mark":{"type":"line","clip":true,"strokeWidth":1.5},"encoding":{"stroke":{"field":"s","type":"nominal","legend":null}}},{"mark":{"type":"point","filled":true,"clip":true,"size":18,"opacity":1},"encoding":{"color":{"field":"s","type":"nominal","title":null},"shape":{"field":"s","type":"nominal","title":null}}}]},
{"transform":[{"fold":["s6"],"as":["s","v"]}],"encoding":{"x":{"field":"x","type":"quantitative","scale":{"domain":[0,0.12],"nice":false,"zero":false},"axis":{"values":[0,0.02,0.04,0.06,0.08,0.1,0.12]},"title":null},"y":{"field":"v","type":"quantitative","scale":{"domain":[0,1],"nice":false},"axis":{"orient":"right","values":[0,0.2,0.4,0.6,0.8,1]},"title":null}},"layer":[{"mark":{"type":"line","clip":true,"strokeWidth":1.5},"encoding":{"stroke":{"field":"s","type":"nominal","legend":null}}},{"mark":{"type":"point","filled":true,"clip":true,"size":18,"opacity":1},"encoding":{"color":{"field":"s","type":"nominal","title":null},"shape":{"field":"s","type":"nominal","title":null}}}]}
],"resolve":{"scale":{"y":"independent"}}},
{"title":"V10 Daily Unattributed Mortality","width":165,"height":96,"data":{"name":"d"},"transform":[{"filter":"datum.p=='V10'"}],"layer":[
{"data":{"name":"b"},"transform":[{"filter":"datum.p=='V10'"}],"mark":{"type":"rule","color":"#4F81BD","strokeWidth":1.2},"encoding":{"x":{"field":"x","type":"quantitative","scale":{"domain":[0,0.005],"nice":false,"zero":false},"axis":{"values":[0,0.001,0.002,0.003,0.004,0.005]},"title":null}}},
{"transform":[{"fold":["s1","s2","s3","s4","s5"],"as":["s","v"]}],"encoding":{"x":{"field":"x","type":"quantitative","scale":{"domain":[0,0.005],"nice":false,"zero":false},"axis":{"values":[0,0.001,0.002,0.003,0.004,0.005]},"title":null},"y":{"field":"v","type":"quantitative","scale":{"domain":[-1,1],"nice":false},"axis":{"orient":"left","values":[-1,-0.5,0,0.5,1]},"title":null}},"layer":[{"mark":{"type":"line","clip":true,"strokeWidth":1.5},"encoding":{"stroke":{"field":"s","type":"nominal","legend":null}}},{"mark":{"type":"point","filled":true,"clip":true,"size":18,"opacity":1},"encoding":{"color":{"field":"s","type":"nominal","title":null},"shape":{"field":"s","type":"nominal","title":null}}}]},
{"transform":[{"fold":["s6"],"as":["s","v"]}],"encoding":{"x":{"field":"x","type":"quantitative","scale":{"domain":[0,0.005],"nice":false,"zero":false},"axis":{"values":[0,0.001,0.002,0.003,0.004,0.005]},"title":null},"y":{"field":"v","type":"quantitative","scale":{"domain":[0,1],"nice":false},"axis":{"orient":"right","values":[0,0.2,0.4,0.6,0.8,1]},"title":null}},"layer":[{"mark":{"type":"line","clip":true,"strokeWidth":1.5},"encoding":{"stroke":{"field":"s","type":"nominal","legend":null}}},{"mark":{"type":"point","filled":true,"clip":true,"size":18,"opacity":1},"encoding":{"color":{"field":"s","type":"nominal","title":null},"shape":{"field":"s","type":"nominal","title":null}}}]}
],"resolve":{"scale":{"y":"independent"}}},
{"title":"V11 Date of Last Repro Attempt","width":165,"height":96,"data":{"name":"d"},"transform":[{"filter":"datum.p=='V11'"}],"layer":[
{"data":{"name":"b"},"transform":[{"filter":"datum.p=='V11'"}],"mark":{"type":"rule","color":"#4F81BD","strokeWidth":1.2},"encoding":{"x":{"field":"x","type":"quantitative","scale":{"domain":[0,500],"nice":false,"zero":false},"axis":{"values":[0,100,200,300,400,500]},"title":null}}},
{"transform":[{"fold":["s1","s2","s3","s4","s5"],"as":["s","v"]}],"encoding":{"x":{"field":"x","type":"quantitative","scale":{"domain":[0,500],"nice":false,"zero":false},"axis":{"values":[0,100,200,300,400,500]},"title":null},"y":{"field":"v","type":"quantitative","scale":{"domain":[-1,1],"nice":false},"axis":{"orient":"left","values":[-1,-0.5,0,0.5,1]},"title":null}},"layer":[{"mark":{"type":"line","clip":true,"strokeWidth":1.5},"encoding":{"stroke":{"field":"s","type":"nominal","legend":null}}},{"mark":{"type":"point","filled":true,"clip":true,"size":18,"opacity":1},"encoding":{"color":{"field":"s","type":"nominal","title":null},"shape":{"field":"s","type":"nominal","title":null}}}]},
{"transform":[{"fold":["s6"],"as":["s","v"]}],"encoding":{"x":{"field":"x","type":"quantitative","scale":{"domain":[0,500],"nice":false,"zero":false},"axis":{"values":[0,100,200,300,400,500]},"title":null},"y":{"field":"v","type":"quantitative","scale":{"domain":[0,1],"nice":false},"axis":{"orient":"right","values":[0,0.2,0.4,0.6,0.8,1]},"title":null}},"layer":[{"mark":{"type":"line","clip":true,"strokeWidth":1.5},"encoding":{"stroke":{"field":"s","type":"nominal","legend":null}}},{"mark":{"type":"point","filled":true,"clip":true,"size":18,"opacity":1},"encoding":{"color":{"field":"s","type":"nominal","title":null},"shape":{"field":"s","type":"nominal","title":null}}}]}
],"resolve":{"scale":{"y":"independent"}}},
{"title":"V12 No Female Dispersal Chance","width":165,"height":96,"data":{"name":"d"},"transform":[{"filter":"datum.p=='V12'"}],"layer":[
{"data":{"name":"b"},"transform":[{"filter":"datum.p=='V12'"}],"mark":{"type":"rule","color":"#4F81BD","strokeWidth":1.2},"encoding":{"x":{"field":"x","type":"quantitative","scale":{"domain":[0,0.1],"nice":false,"zero":false},"axis":{"values":[0,0.01,0.02,0.03,0.04,0.05,0.06,0.07,0.08,0.09,0.1],"labelFontSize":6.3},"title":null}}},
{"transform":[{"fold":["s1","s2","s3","s4","s5"],"as":["s","v"]}],"encoding":{"x":{"field":"x","type":"quantitative","scale":{"domain":[0,0.1],"nice":false,"zero":false},"axis":{"values":[0,0.01,0.02,0.03,0.04,0.05,0.06,0.07,0.08,0.09,0.1],"labelFontSize":6.3},"title":null},"y":{"field":"v","type":"quantitative","scale":{"domain":[-1,1],"nice":false},"axis":{"orient":"left","values":[-1,-0.5,0,0.5,1]},"title":null}},"layer":[{"mark":{"type":"line","clip":true,"strokeWidth":1.5},"encoding":{"stroke":{"field":"s","type":"nominal","legend":null}}},{"mark":{"type":"point","filled":true,"clip":true,"size":18,"opacity":1},"encoding":{"color":{"field":"s","type":"nominal","title":null},"shape":{"field":"s","type":"nominal","title":null}}}]},
{"transform":[{"fold":["s6"],"as":["s","v"]}],"encoding":{"x":{"field":"x","type":"quantitative","scale":{"domain":[0,0.1],"nice":false,"zero":false},"axis":{"values":[0,0.01,0.02,0.03,0.04,0.05,0.06,0.07,0.08,0.09,0.1],"labelFontSize":6.3},"title":null},"y":{"field":"v","type":"quantitative","scale":{"domain":[0,1],"nice":false},"axis":{"orient":"right","values":[0,0.2,0.4,0.6,0.8,1]},"title":null}},"layer":[{"mark":{"type":"line","clip":true,"strokeWidth":1.5},"encoding":{"stroke":{"field":"s","type":"nominal","legend":null}}},{"mark":{"type":"point","filled":true,"clip":true,"size":18,"opacity":1},"encoding":{"color":{"field":"s","type":"nominal","title":null},"shape":{"field":"s","type":"nominal","title":null}}}]}
],"resolve":{"scale":{"y":"independent"}}},
{"title":"V13 Density Dependence Threshold","width":165,"height":96,"data":{"name":"d"},"transform":[{"filter":"datum.p=='V13'"}],"layer":[
{"data":{"name":"b"},"transform":[{"filter":"datum.p=='V13'"}],"mark":{"type":"rule","color":"#4F81BD","strokeWidth":1.2},"encoding":{"x":{"field":"x","type":"quantitative","scale":{"domain":[0,20],"nice":false,"zero":false},"axis":{"values":[0,5,10,15,20]},"title":null}}},
{"transform":[{"fold":["s1","s2","s3","s4","s5"],"as":["s","v"]}],"encoding":{"x":{"field":"x","type":"quantitative","scale":{"domain":[0,20],"nice":false,"zero":false},"axis":{"values":[0,5,10,15,20]},"title":null},"y":{"field":"v","type":"quantitative","scale":{"domain":[-1,1],"nice":false},"axis":{"orient":"left","values":[-1,-0.5,0,0.5,1]},"title":null}},"layer":[{"mark":{"type":"line","clip":true,"strokeWidth":1.5},"encoding":{"stroke":{"field":"s","type":"nominal","legend":null}}},{"mark":{"type":"point","filled":true,"clip":true,"size":18,"opacity":1},"encoding":{"color":{"field":"s","type":"nominal","title":null},"shape":{"field":"s","type":"nominal","title":null}}}]},
{"transform":[{"fold":["s6"],"as":["s","v"]}],"encoding":{"x":{"field":"x","type":"quantitative","scale":{"domain":[0,20],"nice":false,"zero":false},"axis":{"values":[0,5,10,15,20]},"title":null},"y":{"field":"v","type":"quantitative","scale":{"domain":[0,1],"nice":false},"axis":{"orient":"right","values":[0,0.2,0.4,0.6,0.8,1]},"title":null}},"layer":[{"mark":{"type":"line","clip":true,"strokeWidth":1.5},"encoding":{"stroke":{"field":"s","type":"nominal","legend":null}}},{"mark":{"type":"point","filled":true,"clip":true,"size":18,"opacity":1},"encoding":{"color":{"field":"s","type":"nominal","title":null},"shape":{"field":"s","type":"nominal","title":null}}}]}
],"resolve":{"scale":{"y":"independent"}}},
{"title":"V14 Breeding Temp Threshold","width":165,"height":96,"data":{"name":"d"},"transform":[{"filter":"datum.p=='V14'"}],"layer":[
{"data":{"name":"b"},"transform":[{"filter":"datum.p=='V14'"}],"mark":{"type":"rule","color":"#4F81BD","strokeWidth":1.2},"encoding":{"x":{"field":"x","type":"quantitative","scale":{"domain":[0,7],"nice":false,"zero":false},"axis":{"values":[0,1,2,3,4,5,6,7]},"title":null}}},
{"transform":[{"fold":["s1","s2","s3","s4","s5"],"as":["s","v"]}],"encoding":{"x":{"field":"x","type":"quantitative","scale":{"domain":[0,7],"nice":false,"zero":false},"axis":{"values":[0,1,2,3,4,5,6,7]},"title":null},"y":{"field":"v","type":"quantitative","scale":{"domain":[-1,1],"nice":false},"axis":{"orient":"left","values":[-1,-0.5,0,0.5,1]},"title":null}},"layer":[{"mark":{"type":"line","clip":true,"strokeWidth":1.5},"encoding":{"stroke":{"field":"s","type":"nominal","legend":null}}},{"mark":{"type":"point","filled":true,"clip":true,"size":18,"opacity":1},"encoding":{"color":{"field":"s","type":"nominal","title":null},"shape":{"field":"s","type":"nominal","title":null}}}]},
{"transform":[{"fold":["s6"],"as":["s","v"]}],"encoding":{"x":{"field":"x","type":"quantitative","scale":{"domain":[0,7],"nice":false,"zero":false},"axis":{"values":[0,1,2,3,4,5,6,7]},"title":null},"y":{"field":"v","type":"quantitative","scale":{"domain":[0,1],"nice":false},"axis":{"orient":"right","values":[0,0.2,0.4,0.6,0.8,1]},"title":null}},"layer":[{"mark":{"type":"line","clip":true,"strokeWidth":1.5},"encoding":{"stroke":{"field":"s","type":"nominal","legend":null}}},{"mark":{"type":"point","filled":true,"clip":true,"size":18,"opacity":1},"encoding":{"color":{"field":"s","type":"nominal","title":null},"shape":{"field":"s","type":"nominal","title":null}}}]}
],"resolve":{"scale":{"y":"independent"}}},
{"title":"V15 Breeding Date Threshold","width":165,"height":96,"data":{"name":"d"},"transform":[{"filter":"datum.p=='V15'"}],"layer":[
{"data":{"name":"b"},"transform":[{"filter":"datum.p=='V15'"}],"mark":{"type":"rule","color":"#4F81BD","strokeWidth":1.2},"encoding":{"x":{"field":"x","type":"quantitative","scale":{"domain":[0,150],"nice":false,"zero":false},"axis":{"values":[0,50,100,150]},"title":null}}},
{"transform":[{"fold":["s1","s2","s3","s4","s5"],"as":["s","v"]}],"encoding":{"x":{"field":"x","type":"quantitative","scale":{"domain":[0,150],"nice":false,"zero":false},"axis":{"values":[0,50,100,150]},"title":null},"y":{"field":"v","type":"quantitative","scale":{"domain":[-1,1],"nice":false},"axis":{"orient":"left","values":[-1,-0.5,0,0.5,1]},"title":null}},"layer":[{"mark":{"type":"line","clip":true,"strokeWidth":1.5},"encoding":{"stroke":{"field":"s","type":"nominal","legend":null}}},{"mark":{"type":"point","filled":true,"clip":true,"size":18,"opacity":1},"encoding":{"color":{"field":"s","type":"nominal","title":null},"shape":{"field":"s","type":"nominal","title":null}}}]},
{"transform":[{"fold":["s6"],"as":["s","v"]}],"encoding":{"x":{"field":"x","type":"quantitative","scale":{"domain":[0,150],"nice":false,"zero":false},"axis":{"values":[0,50,100,150]},"title":null},"y":{"field":"v","type":"quantitative","scale":{"domain":[0,1],"nice":false},"axis":{"orient":"right","values":[0,0.2,0.4,0.6,0.8,1]},"title":null}},"layer":[{"mark":{"type":"line","clip":true,"strokeWidth":1.5},"encoding":{"stroke":{"field":"s","type":"nominal","legend":null}}},{"mark":{"type":"point","filled":true,"clip":true,"size":18,"opacity":1},"encoding":{"color":{"field":"s","type":"nominal","title":null},"shape":{"field":"s","type":"nominal","title":null}}}]}
],"resolve":{"scale":{"y":"independent"}}}
],
"config": {
"view": {"stroke": null},
"font": "Liberation Sans",
"title": {"anchor": "start", "fontSize": 8, "fontWeight": "bold", "font": "Liberation Sans", "offset": 4, "color": "#000"},
"axis": {"labelFont": "Liberation Sans", "labelFontSize": 8, "labelColor": "#222", "domainColor": "#888", "tickColor": "#888", "tickSize": 3, "labelPadding": 2, "labelExpr": "datum.value + ''"},
"axisX": {"domain": false, "ticks": false, "grid": false, "labelPadding": 8, "labelOverlap": false, "labelFlush": false},
"axisLeft": {"grid": true, "gridColor": {"condition": {"test": "datum.value === 0", "value": "#c8c8c8"}, "value": "#888888"}},
"axisRight": {"grid": false},
"legend": {"orient": "none", "legendX": 41, "legendY": -75, "columns": 3, "direction": "horizontal", "labelFont": "Liberation Sans", "labelFontSize": 12, "labelColor": "#000", "symbolSize": 55, "columnPadding": 16, "rowPadding": 12, "gridAlign": "all", "labelLimit": 300, "labelOffset": 6},
"range": {
"category": ["#A31D20", "#B7282E", "#D35B62", "#E29797", "#F0B6B6", "#000000"],
"symbol": ["square", "triangle-up", "diamond", "M-0.15,-1L0.15,-1L0.15,1L-0.15,1Z M-0.74,-0.96L0.96,0.74L0.74,0.96L-0.96,-0.74Z M-0.96,0.74L0.74,-0.96L0.96,-0.74L-0.74,0.96Z", "circle", "diamond"]
}
}
}
